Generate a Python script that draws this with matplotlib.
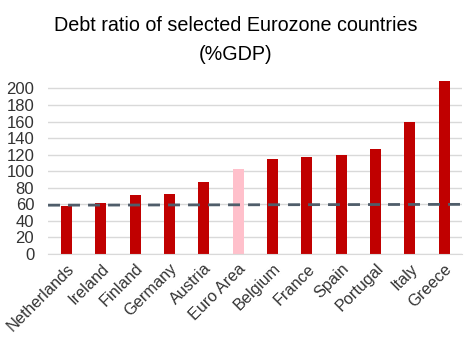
import numpy as np
import matplotlib
matplotlib.use('Agg')
import matplotlib.pyplot as plt

# debt ratio data (% of GDP)
countries = ['Netherlands', 'Ireland', 'Finland', 'Germany', 'Austria', 'Euro Area',
             'Belgium', 'France', 'Spain', 'Portugal', 'Italy', 'Greece']
debt = [57.9, 61.6, 71.2, 72.4, 86.9, 102.6, 114.7, 117.1, 119.5, 126.7, 159.3, 208.8]
limit_line = [59.0, 60.0]  # dashed reference line, left and right ends
yticks = list(range(0, 201, 20))

plt.rcParams['font.family'] = ['Liberation Sans', 'DejaVu Sans']

fig = plt.figure(figsize=(4.71, 3.41), dpi=100)
ax = fig.add_axes([0.102, 0.255, 0.879, 0.51])

x = np.arange(len(countries))
colors = ['pink' if c == 'Euro Area' else '#C00000' for c in countries]
ax.bar(x, debt, width=0.32, color=colors, zorder=2)

ax.plot([-0.54, 11.52], limit_line, color='#4F5D6A', lw=2.0, dashes=(4.3, 2.9), zorder=3)

ax.set_xlim(-0.54, 11.52)
ax.set_ylim(0, 210)
ax.set_yticks(yticks)
ax.set_yticklabels([str(t) for t in yticks], fontsize=12, color='#333333')
ax.set_xticks(x)
ax.set_xticklabels(countries, rotation=45, ha='right', rotation_mode='anchor',
                   fontsize=11.7, color='#333333')
ax.tick_params(axis='y', length=0, pad=10)
ax.tick_params(axis='x', length=0, pad=5)
ax.yaxis.grid(True, color='#D9D9D9', lw=1, zorder=0)
for s in ['top', 'right', 'left']:
    ax.spines[s].set_visible(False)
ax.spines['bottom'].set_color('#D9D9D9')

fig.text(0.5, 0.91, 'Debt ratio of selected Eurozone countries', ha='center', va='baseline',
         fontsize=14.2)
fig.text(0.5, 0.825, '(%GDP)', ha='center', va='baseline', fontsize=14.2)

fig.savefig('out.png', dpi=100)
